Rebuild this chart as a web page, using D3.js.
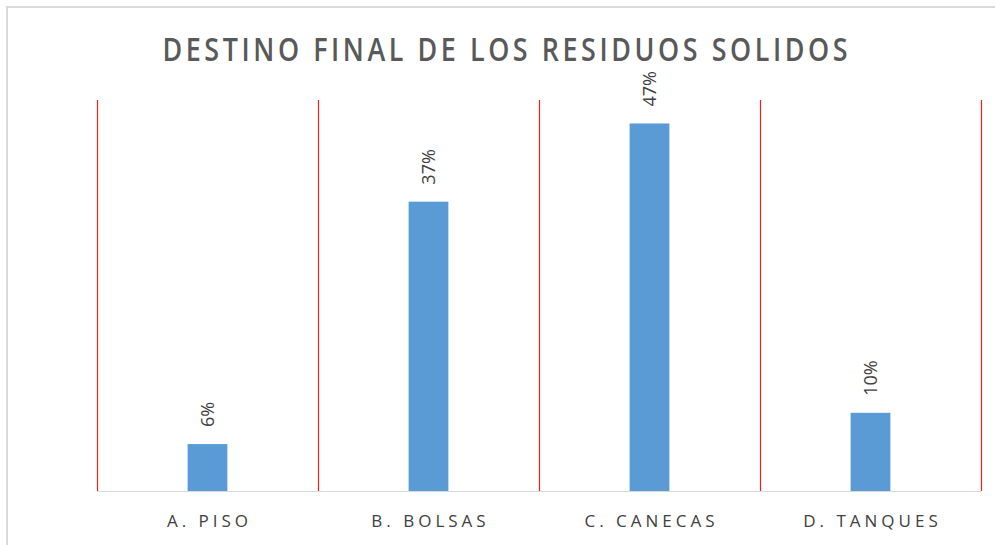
<!DOCTYPE html>
<html>
<head>
<meta charset="utf-8">
<script src="https://cdn.jsdelivr.net/npm/d3@7"></script>
<style>
  body { margin: 0; background: #fff; }
  svg { display: block; }
</style>
</head>
<body>
<div id="chart"></div>
<script>
// chart data
const categories = ['A. PISO', 'B. BOLSAS', 'C. CANECAS', 'D. TANQUES'];
const values = [6, 37, 47, 10];
const title = 'DESTINO FINAL DE LOS RESIDUOS SOLIDOS';

let width = 995;
let height = 545;
let plot = { left: 97, right: 981, top: 100, bottom: 491 };

let svg = d3.select('#chart').append('svg')
    .attr('width', width)
    .attr('height', height);

// outer frame of the chart
svg.append('path')
    .attr('d', `M7,${height} L7,7 L${width},7`)
    .attr('fill', 'none')
    .attr('stroke', '#d9d9d9')
    .attr('stroke-width', 2);

let x = d3.scaleBand()
    .domain(categories)
    .range([plot.left, plot.right])
    .paddingInner(0.82)
    .paddingOuter(0.41);

let y = d3.scaleLinear()
    .domain([0, 50])
    .range([plot.bottom, plot.top]);

let step = x.step();
let gap = (step - x.bandwidth()) / 2;

// red separators between categories
let seps = categories.map(c => x(c) - gap);
seps.push(x(categories[categories.length - 1]) + x.bandwidth() + gap);

svg.append('g')
    .selectAll('line')
    .data(seps)
    .enter()
    .append('line')
    .attr('x1', d => Math.round(d) + 0.5)
    .attr('x2', d => Math.round(d) + 0.5)
    .attr('y1', y(50))
    .attr('y2', y(0))
    .attr('stroke', '#f02020')
    .attr('stroke-width', 1.2);

// baseline
svg.append('line')
    .attr('x1', plot.left)
    .attr('x2', plot.right)
    .attr('y1', y(0) + 0.5)
    .attr('y2', y(0) + 0.5)
    .attr('stroke', '#d9d9d9')
    .attr('stroke-width', 1);

// bars
svg.append('g')
    .selectAll('rect')
    .data(values)
    .enter()
    .append('rect')
    .attr('x', (d, i) => x(categories[i]))
    .attr('y', d => y(d))
    .attr('width', x.bandwidth())
    .attr('height', d => y(0) - y(d))
    .attr('fill', '#5b9bd5');

// value labels, rotated
svg.append('g')
    .selectAll('text')
    .data(values)
    .enter()
    .append('text')
    .attr('transform', (d, i) => `translate(${x(categories[i]) + x.bandwidth() / 2 + 6},${y(d) - 17}) rotate(-90)`)
    .attr('text-anchor', 'start')
    .style('font-family', '"Open Sans", "Liberation Sans", sans-serif')
    .style('font-size', '18px')
    .style('fill', '#404040')
    .text(d => d + '%');

// category labels
svg.append('g')
    .selectAll('text')
    .data(categories)
    .enter()
    .append('text')
    .attr('x', d => x(d) + x.bandwidth() / 2 + 2)
    .attr('y', 527)
    .attr('text-anchor', 'middle')
    .style('font-family', '"Open Sans", "Liberation Sans", sans-serif')
    .style('font-size', '17px')
    .style('letter-spacing', '4px')
    .style('fill', '#404040')
    .text(d => d);

// title, squeezed horizontally to look like a condensed face
let squeeze = 0.84;
svg.append('text')
    .attr('transform', `translate(505,61) scale(${squeeze},1)`)
    .attr('x', 0)
    .attr('y', 0)
    .attr('text-anchor', 'middle')
    .attr('textLength', 685 / squeeze)
    .attr('lengthAdjust', 'spacing')
    .style('font-family', '"Open Sans", sans-serif')
    .style('font-size', '32px')
    .style('font-weight', '600')
    .style('fill', '#595959')
    .text(title);
</script>
</body>
</html>
